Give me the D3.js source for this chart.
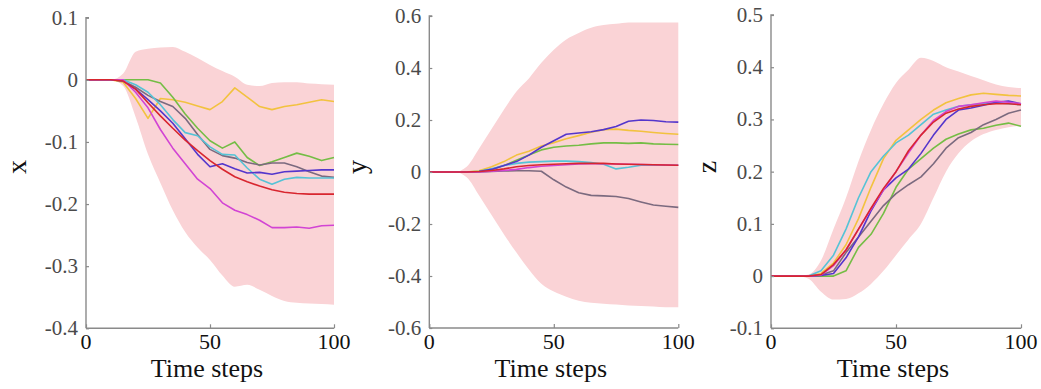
<!DOCTYPE html>
<html><head><meta charset="utf-8">
<script src="https://cdn.jsdelivr.net/npm/d3@7/dist/d3.min.js"></script>
<style>
html,body{margin:0;padding:0;background:#fff;}
</style></head>
<body><svg id="c" width="1041" height="389"></svg>
<script>
// ---------- DATA ----------
const timeSteps = [0,5,10,15,20,25,30,35,40,45,50,55,60,65,70,75,80,85,90,95,100];
const xTickValues = [0,50,100];
const axisTitle = "Time steps";
const panelLabels = ["x","y","z"];
const xPanelTicks = [0.1,0,-0.1,-0.2,-0.3,-0.4];
const yPanelTicks = [0.6,0.4,0.2,0,-0.2,-0.4,-0.6];
const zPanelTicks = [0.5,0.4,0.3,0.2,0.1,0,-0.1];

// panel x
const xBandUpper = [0,0,0,0.01,0.045,0.05,0.052,0.053,0.045,0.035,0.024,0.014,0.005,-0.008,-0.01,-0.005,-0.004,-0.004,-0.006,-0.007,-0.008];
const xBandLower = [0,0,0,-0.01,-0.06,-0.12,-0.166,-0.21,-0.245,-0.27,-0.29,-0.315,-0.333,-0.33,-0.338,-0.348,-0.356,-0.359,-0.36,-0.361,-0.362];
const xYellow  = [0,0,0,-0.004,-0.03,-0.062,-0.03,-0.032,-0.036,-0.042,-0.048,-0.035,-0.013,-0.028,-0.043,-0.048,-0.043,-0.04,-0.036,-0.032,-0.035];
const xGreen   = [0,0,0,0,0,0,-0.005,-0.028,-0.055,-0.078,-0.098,-0.11,-0.1,-0.125,-0.138,-0.132,-0.125,-0.118,-0.123,-0.13,-0.125];
const xGrey    = [0,0,0,-0.002,-0.012,-0.025,-0.035,-0.043,-0.062,-0.088,-0.112,-0.122,-0.126,-0.133,-0.137,-0.134,-0.134,-0.14,-0.148,-0.155,-0.157];
const xCyan    = [0,0,0,0,-0.008,-0.02,-0.04,-0.064,-0.085,-0.09,-0.108,-0.12,-0.121,-0.142,-0.16,-0.168,-0.16,-0.157,-0.158,-0.158,-0.158];
const xBlue    = [0,0,0,-0.002,-0.015,-0.032,-0.05,-0.07,-0.095,-0.12,-0.14,-0.135,-0.143,-0.15,-0.149,-0.152,-0.148,-0.147,-0.146,-0.145,-0.145];
const xMagenta = [0,0,0,0,-0.02,-0.045,-0.08,-0.11,-0.135,-0.16,-0.175,-0.198,-0.21,-0.217,-0.226,-0.238,-0.238,-0.237,-0.239,-0.235,-0.234];
const xRed     = [0,0,0,-0.002,-0.015,-0.037,-0.058,-0.078,-0.097,-0.114,-0.13,-0.144,-0.156,-0.164,-0.171,-0.177,-0.181,-0.183,-0.184,-0.184,-0.184];

// panel y
const yBandUpper = [0,0,0,0.02,0.09,0.165,0.24,0.31,0.36,0.42,0.47,0.51,0.535,0.555,0.565,0.57,0.575,0.575,0.575,0.575,0.575];
const yBandLower = [0,0,0,-0.02,-0.09,-0.165,-0.24,-0.31,-0.375,-0.43,-0.46,-0.48,-0.495,-0.503,-0.507,-0.51,-0.513,-0.515,-0.517,-0.52,-0.52];
const yYellow  = [0,0,0,0,0.005,0.02,0.04,0.065,0.08,0.1,0.113,0.128,0.14,0.153,0.163,0.165,0.16,0.157,0.152,0.148,0.145];
const yGreen   = [0,0,0,0,0.002,0.01,0.025,0.045,0.065,0.085,0.095,0.1,0.103,0.108,0.112,0.112,0.11,0.112,0.108,0.107,0.106];
const yGrey    = [0,0,0,0,0,0.002,0.004,0.005,0.005,0.003,-0.03,-0.058,-0.08,-0.09,-0.092,-0.094,-0.102,-0.115,-0.127,-0.132,-0.136];
const yCyan    = [0,0,0,0,0.003,0.012,0.025,0.033,0.038,0.04,0.042,0.042,0.04,0.036,0.03,0.012,0.018,0.026,0.026,0.026,0.026];
const yBlue    = [0,0,0,0,0.002,0.01,0.025,0.04,0.065,0.095,0.12,0.145,0.15,0.155,0.163,0.175,0.195,0.2,0.198,0.193,0.192];
const yMagenta = [0,0,0,0,0,0.003,0.006,0.01,0.017,0.022,0.025,0.028,0.031,0.032,0.032,0.031,0.03,0.029,0.028,0.027,0.026];
const yRed     = [0,0,0,0,0.002,0.006,0.012,0.02,0.025,0.028,0.03,0.032,0.033,0.033,0.033,0.031,0.03,0.029,0.028,0.027,0.026];

// panel z
const zBandUpper = [0,0,0,0.003,0.03,0.09,0.15,0.22,0.28,0.33,0.37,0.395,0.418,0.412,0.4,0.392,0.383,0.375,0.367,0.362,0.36];
const zBandLower = [0,0,0,-0.005,-0.03,-0.045,-0.044,-0.033,-0.015,0.01,0.04,0.07,0.1,0.15,0.2,0.235,0.258,0.272,0.28,0.285,0.288];
const zYellow  = [0,0,0,0,0.005,0.025,0.06,0.11,0.17,0.225,0.26,0.28,0.3,0.318,0.332,0.34,0.347,0.35,0.348,0.346,0.345];
const zGreen   = [0,0,0,0,0,0,0.01,0.055,0.08,0.12,0.17,0.205,0.225,0.245,0.262,0.272,0.28,0.283,0.289,0.293,0.287];
const zGrey    = [0,0,0,0,0.002,0.01,0.045,0.075,0.105,0.135,0.158,0.175,0.19,0.215,0.245,0.265,0.275,0.29,0.3,0.312,0.318];
const zCyan    = [0,0,0,0,0.01,0.04,0.09,0.15,0.2,0.23,0.255,0.27,0.29,0.31,0.318,0.325,0.328,0.33,0.332,0.33,0.328];
const zBlue    = [0,0,0,0,0.001,0.005,0.035,0.075,0.125,0.165,0.188,0.205,0.235,0.27,0.3,0.318,0.322,0.327,0.333,0.335,0.33];
const zMagenta = [0,0,0,0,0.002,0.02,0.05,0.09,0.128,0.165,0.2,0.236,0.27,0.298,0.315,0.325,0.328,0.332,0.335,0.333,0.33];
const zRed     = [0,0,0,0,0.003,0.022,0.05,0.09,0.13,0.168,0.2,0.24,0.27,0.295,0.312,0.32,0.325,0.328,0.33,0.33,0.328];

// ---------- STYLE / LAYOUT ----------
const FONT = "'Liberation Serif','Times New Roman',serif";
const colors = {yellow:"#f2c23f", green:"#74bd45", grey:"#7b6a7f", cyan:"#55c3d6", blue:"#5436cc", magenta:"#d244d4", red:"#d8262f"};
const bandColor = "#fad3d6";

const panels = [
  {label:panelLabels[0], ticks:xPanelTicks, domain:[-0.4,0.1], left:86, right:334, top:17.7, bottom:328.3, labelX:26,
   upper:xBandUpper, lower:xBandLower,
   lines:[["yellow",xYellow],["green",xGreen],["grey",xGrey],["cyan",xCyan],["blue",xBlue],["magenta",xMagenta],["red",xRed]]},
  {label:panelLabels[1], ticks:yPanelTicks, domain:[-0.6,0.6], left:429.3, right:678.3, top:16, bottom:328, labelX:366,
   upper:yBandUpper, lower:yBandLower,
   lines:[["yellow",yYellow],["green",yGreen],["grey",yGrey],["cyan",yCyan],["blue",yBlue],["magenta",yMagenta],["red",yRed]]},
  {label:panelLabels[2], ticks:zPanelTicks, domain:[-0.1,0.5], left:771, right:1021, top:15, bottom:328.3, labelX:716,
   upper:zBandUpper, lower:zBandLower,
   lines:[["yellow",zYellow],["green",zGreen],["grey",zGrey],["cyan",zCyan],["blue",zBlue],["magenta",zMagenta],["red",zRed]]}
];

const svg = d3.select("#c");
svg.append("rect").attr("width",1041).attr("height",389).attr("fill","#fff");

panels.forEach(p => {
  const x = d3.scaleLinear().domain([0,100]).range([p.left,p.right]);
  const y = d3.scaleLinear().domain(p.domain).range([p.bottom,p.top]);
  const g = svg.append("g");

  const area = d3.area().x((d,i)=>x(timeSteps[i])).y0((d,i)=>y(p.lower[i])).y1(d=>y(d)).curve(d3.curveMonotoneX);
  g.append("path").datum(p.upper).attr("d",area).attr("fill",bandColor).attr("stroke","none");

  const line = d3.line().x((d,i)=>x(timeSteps[i])).y(d=>y(d)).curve(d3.curveLinear);
  p.lines.forEach(([c,vals]) => {
    g.append("path").datum(vals).attr("d",line).attr("fill","none")
      .attr("stroke",colors[c]).attr("stroke-width",1.6).attr("stroke-linejoin","round");
  });

  // y axis (ticks inward)
  const ya = g.append("g").attr("transform",`translate(${p.left},0)`)
    .call(d3.axisRight(y).tickValues(p.ticks).tickSize(3).tickFormat(""));
  ya.select(".domain").attr("stroke","#8a8a8a").attr("stroke-width",1.4).attr("d",`M3,${p.top}H0V${p.bottom}`);
  ya.selectAll(".tick line").attr("stroke","#8a8a8a").attr("stroke-width",1.2);
  g.selectAll(".ylab").data(p.ticks).enter().append("text")
    .attr("font-family",FONT)
    .attr("x",p.left-8).attr("y",d=>y(d)).attr("dy","0.33em")
    .attr("text-anchor","end").attr("font-size",21).attr("fill","#4a4a4a")
    .text(d=>String(d));

  // x axis (ticks inward)
  const xa = g.append("g").attr("transform",`translate(0,${p.bottom})`)
    .call(d3.axisTop(x).tickValues(xTickValues).tickSize(4).tickFormat(""));
  xa.select(".domain").attr("stroke","#8a8a8a").attr("stroke-width",1.4).attr("d",`M${p.left},0H${p.right}`);
  xa.selectAll(".tick line").attr("stroke","#8a8a8a").attr("stroke-width",1.2);
  g.selectAll(".xlab").data(xTickValues).enter().append("text")
    .attr("font-family",FONT)
    .attr("x",d=>x(d)).attr("y",349).attr("text-anchor","middle")
    .attr("font-size",22).attr("fill","#111").text(d=>String(d));

  g.append("text").attr("font-family",FONT)
    .attr("x",(p.left+p.right)/2-3).attr("y",377).attr("text-anchor","middle")
    .attr("font-size",26).attr("fill","#111").text(axisTitle);

  g.append("text").attr("font-family",FONT)
    .attr("transform",`translate(${p.labelX},167) rotate(-90)`)
    .attr("text-anchor","middle").attr("font-size",28).attr("fill","#111").text(p.label);
});
</script></body></html>
